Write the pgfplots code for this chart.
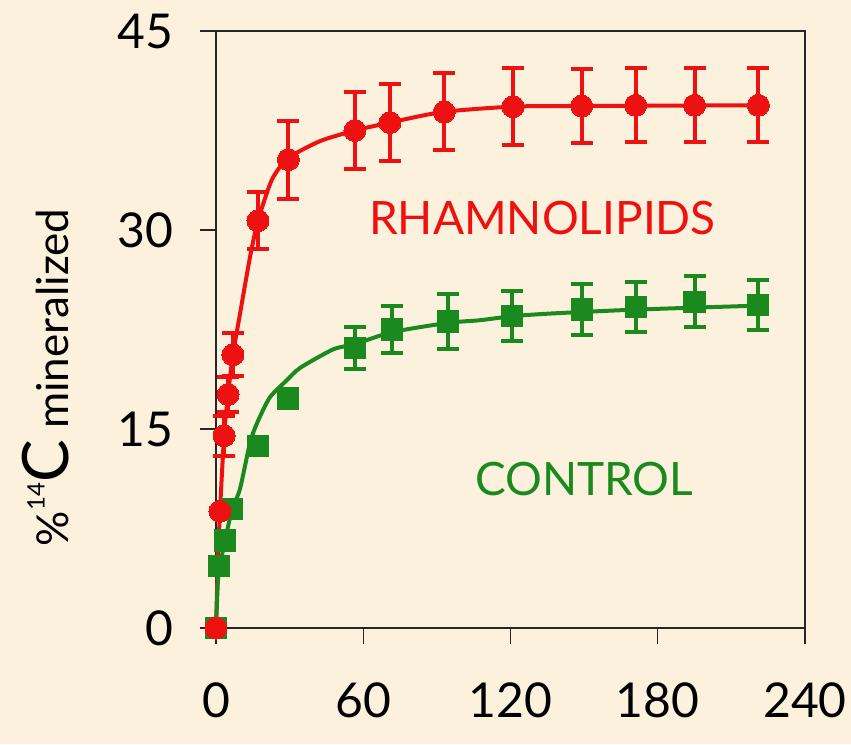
\documentclass[border=0pt]{standalone}
\usepackage{pgfplots}
\pgfplotsset{compat=1.18}
\usepackage{fontspec}
\setmainfont{Lato}
\definecolor{bg}{HTML}{FBF1DD}
\definecolor{myred}{HTML}{EE1111}
\definecolor{mygreen}{HTML}{1A8A1E}
\begin{document}
\begin{tikzpicture}
\fill[bg] (-108pt,-58pt) rectangle (317.5pt,314pt);
\begin{axis}[
 at={(0pt,0pt)}, anchor=south west,
 scale only axis, width=294.5pt, height=298.5pt,
 xmin=0, xmax=240, ymin=0, ymax=45,
 xtick={0,60,120,180,240}, ytick={0,15,30,45},
 tick align=outside, tick pos=left,
 major tick length=8pt,
 axis line style={line width=0.8pt, black!85},
 every tick/.style={black!85, line width=0.7pt},
 tick label style={font=\fontsize{24}{28}\selectfont, /pgf/number format/assume math mode=true},
 xticklabel style={yshift=-16pt},
 yticklabel style={xshift=-10pt},
 clip=false,
 ylabel={\fontsize{22}{24}\selectfont\%\raisebox{0.55em}{\fontsize{12}{12}\selectfont 14}{\fontsize{32}{32}\selectfont C}\ mineralized},
 ylabel style={at={(axis description cs:-0.289,0.42)}, anchor=center},
]
% fitted curves
\addplot[myred, line width=2pt, smooth, tension=0.4] coordinates {
(0,0) (0.8,5.1) (1.6,8.7) (3.3,14.5) (4.9,17.6) (6.9,20.6) (9.8,23.7) (13.9,28.0) (17.1,30.7) (22.8,33.8) (29.3,35.4) (42.4,36.7) (56.6,37.5) (70.9,38.1) (92.5,38.9) (121,39.3) (148,39.35) (221.7,39.4)};
\addplot[mygreen, line width=2pt, smooth, tension=0.4] coordinates {
(0,0) (0.8,3.6) (1.6,4.7) (3.7,6.6) (6.5,8.9) (9.8,10.5) (13.9,14.0) (17.1,15.6) (22.0,17.4) (29,18.7) (34.2,19.6) (47.7,21.0) (56.6,21.4) (71.7,22.3) (94.5,23.0) (107.6,23.2) (120.6,23.5) (136,23.7) (171,24.0) (221,24.3)};
% data points
\addplot[mygreen, only marks, mark=square*, mark size=5.3pt, mark options={fill=mygreen, draw=mygreen, line width=0pt},
 error bars/.cd, y dir=both, y explicit,
 error bar style={line width=2pt, mygreen},
 error mark options={rotate=90, line width=2pt, mark size=5.5pt, mygreen}]
 table[x=x, y=y, y error=e] {
x y e
0 0 0
1.2 4.7 0
3.7 6.6 0
6.5 9.0 0
17.1 13.7 0
29.4 17.3 0
56.6 21.1 1.6
71.7 22.5 1.75
94.5 23.1 2.05
120.6 23.5 1.9
149 24.0 1.9
171 24.2 1.9
195 24.6 1.9
221 24.35 1.9
};
\addplot[myred, only marks, mark=*, mark size=5.5pt, mark options={fill=myred, draw=myred, line width=0pt},
 error bars/.cd, y dir=both, y explicit,
 error bar style={line width=2pt, myred},
 error mark options={rotate=90, line width=2pt, mark size=5.5pt, myred}]
 table[x=x, y=y, y error=e] {
x y e
0 0 0
1.6 8.8 0
3.3 14.5 1.5
4.9 17.6 1.3
6.9 20.6 1.6
17.1 30.7 2.15
29.5 35.3 2.95
56.6 37.5 2.9
70.9 38.1 2.9
93 38.9 2.9
121 39.3 2.9
149 39.35 2.8
171 39.4 2.8
195 39.4 2.8
221 39.4 2.8
};
\node[text=myred, font=\fontsize{23}{23}\selectfont] at (axis cs:133,30.9) {RHAMNOLIPIDS};
\node[text=mygreen, font=\fontsize{23}{23}\selectfont] at (axis cs:150,11.2) {CONTROL};
\end{axis}
\pgfresetboundingbox
\path (-108pt,-58pt) rectangle (317.5pt,314pt);
\end{tikzpicture}
\end{document}
